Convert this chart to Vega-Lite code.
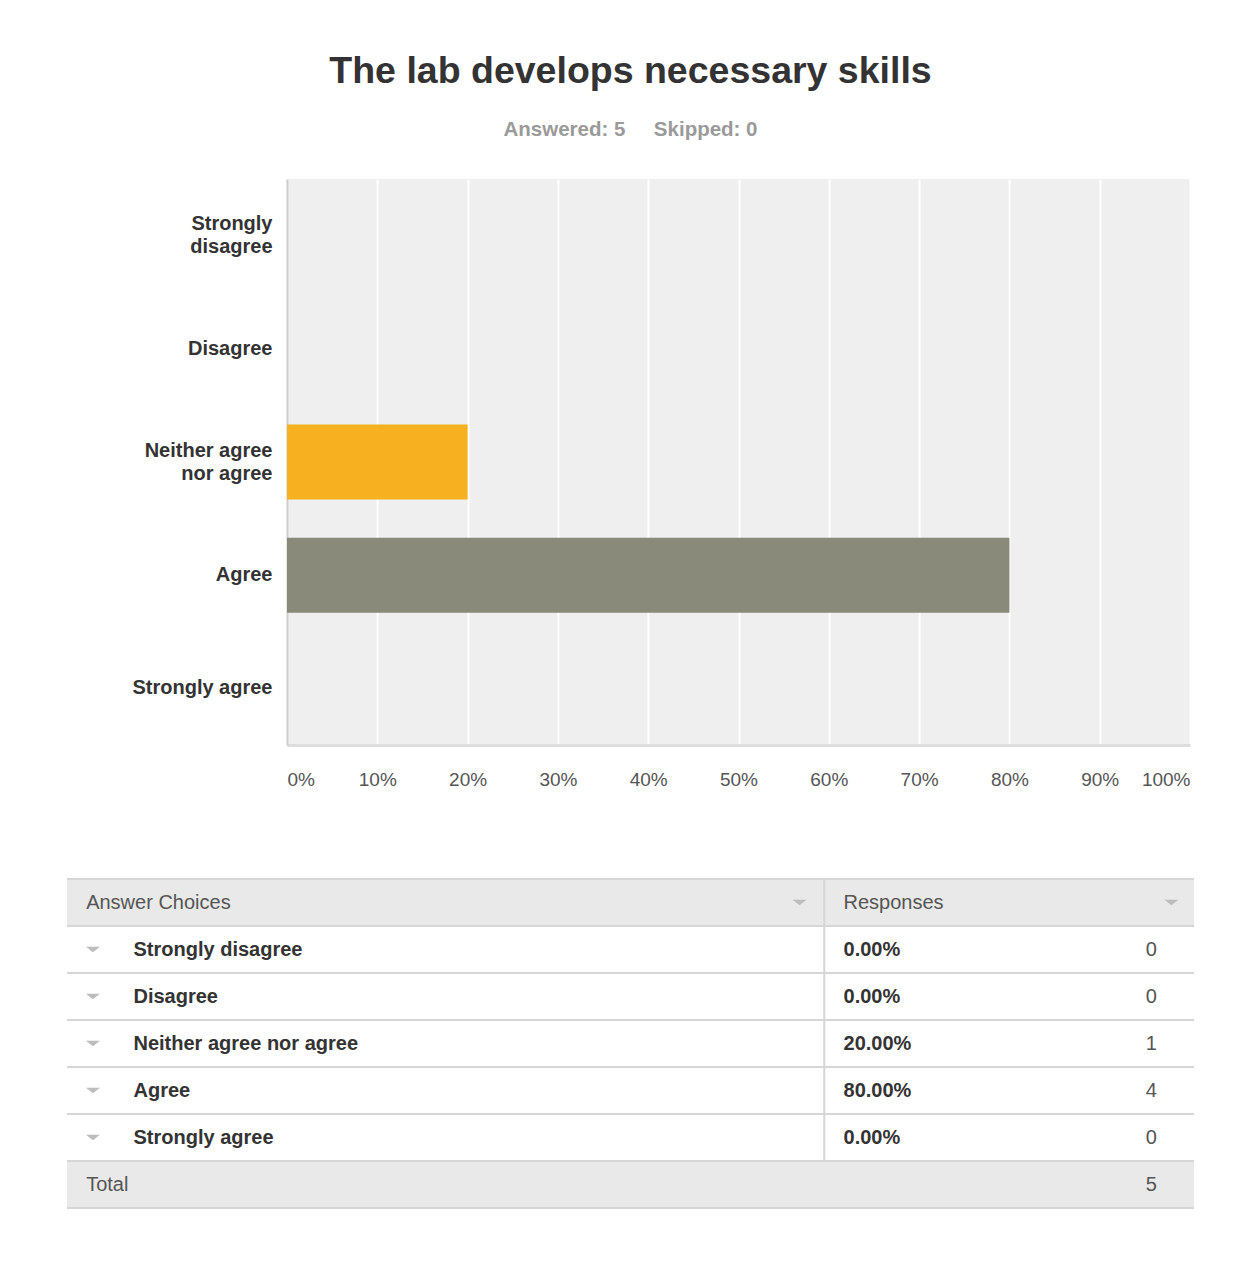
{
  "$schema": "https://vega.github.io/schema/vega-lite/v6.json",
  "padding": {"left": 66, "top": 53, "right": 0, "bottom": 0},
  "background": "white",
  "title": {
    "text": "The lab develops necessary skills",
    "subtitle": "Answered: 5\u00a0\u00a0\u00a0\u00a0 Skipped: 0",
    "anchor": "middle",
    "font": "Liberation Sans",
    "fontSize": 37.5,
    "fontWeight": "bold",
    "color": "#333333",
    "subtitleFont": "Liberation Sans",
    "subtitleFontSize": 20.5,
    "subtitleFontWeight": "bold",
    "subtitleColor": "#9a9a9a",
    "subtitlePadding": 29,
    "offset": 39
  },
  "datasets": {
    "table": [
      {"row": "Answer Choices", "kind": "header", "resp": "Responses"},
      {"row": "Strongly disagree", "kind": "body", "share": 0, "count": 0},
      {"row": "Disagree", "kind": "body", "share": 0, "count": 0},
      {"row": "Neither agree nor agree", "kind": "body", "share": 0.2, "count": 1},
      {"row": "Agree", "kind": "body", "share": 0.8, "count": 4},
      {"row": "Strongly agree", "kind": "body", "share": 0, "count": 0},
      {"row": "Total", "kind": "total", "count": 5}
    ]
  },
  "spacing": 89,
  "vconcat": [
    {
      "width": 903,
      "height": 566,
      "view": {"fill": "#efefef", "stroke": null},
      "data": {"name": "table"},
      "transform": [{"filter": "datum.kind == 'body'"}],
      "mark": {"type": "bar"},
      "encoding": {
        "y": {
          "field": "row",
          "type": "nominal",
          "sort": null,
          "scale": {"paddingInner": 0.337, "paddingOuter": 0.1685},
          "axis": {
            "title": null,
            "ticks": false,
            "grid": false,
            "domain": true,
            "domainColor": "#cccccc",
            "domainWidth": 2,
            "labelFont": "Liberation Sans",
            "labelFontSize": 20,
            "labelFontWeight": "bold",
            "labelColor": "#333333",
            "labelPadding": 15,
            "labelLineHeight": 23,
            "labelOffset": {"condition": {"test": "datum.value == 'Strongly disagree' || datum.value == 'Neither agree nor agree'", "value": -11.5}, "value": 0},
            "labelExpr": "datum.value == 'Strongly disagree' ? ['Strongly', 'disagree'] : datum.value == 'Neither agree nor agree' ? ['Neither agree', 'nor agree'] : datum.label"
          }
        },
        "x": {
          "field": "share",
          "type": "quantitative",
          "scale": {"domain": [0, 1], "nice": false},
          "axis": {
            "title": null,
            "format": ".0%",
            "values": [0, 0.1, 0.2, 0.3, 0.4, 0.5, 0.6, 0.7, 0.8, 0.9, 1],
            "ticks": false,
            "grid": true,
            "gridColor": "#ffffff",
            "gridWidth": 2,
            "domain": true,
            "domainColor": "#dddddd",
            "domainWidth": 3,
            "labelFont": "Liberation Sans",
            "labelFontSize": 19,
            "labelColor": "#555555",
            "labelPadding": 25,
            "labelFlush": true
          }
        },
        "color": {
          "field": "row",
          "type": "nominal",
          "legend": null,
          "scale": {
            "domain": ["Strongly disagree", "Disagree", "Neither agree nor agree", "Agree", "Strongly agree"],
            "range": ["#00bf6f", "#507cb6", "#f7b01f", "#898a79", "#6bc8cd"]
          }
        }
      }
    },
    {
      "width": 907,
      "height": 329,
      "view": {"stroke": null},
      "data": {"name": "table"},
      "encoding": {
        "y": {
          "field": "row",
          "type": "nominal",
          "axis": null,
          "scale": {
            "domain": ["Answer Choices", "Strongly disagree", "Disagree", "Neither agree nor agree", "Agree", "Strongly agree", "Total"],
            "paddingInner": 0,
            "paddingOuter": 0
          }
        }
      },
      "layer": [
        {
          "transform": [{"filter": "datum.kind != 'body'"}],
          "mark": {"type": "rect", "fill": "#e9e9e9"},
          "encoding": {
            "x": {"datum": 0, "type": "quantitative", "scale": {"domain": [0, 100], "range": [-220, 907], "nice": false, "zero": false}, "axis": null},
            "x2": {"datum": 100}
          }
        },
        {
          "mark": {"type": "rule", "stroke": "#d6d6d6", "strokeWidth": 2},
          "encoding": {
            "y": {"field": "row", "type": "nominal", "bandPosition": 0},
            "x": {"datum": 0, "type": "quantitative"},
            "x2": {"datum": 100}
          }
        },
        {
          "transform": [{"filter": "datum.kind == 'total'"}],
          "mark": {"type": "rule", "stroke": "#d6d6d6", "strokeWidth": 2},
          "encoding": {
            "y": {"field": "row", "type": "nominal", "bandPosition": 1},
            "x": {"datum": 0, "type": "quantitative"},
            "x2": {"datum": 100}
          }
        },
        {
          "transform": [{"filter": "datum.kind != 'total'"}],
          "mark": {"type": "rect", "fill": "#d6d6d6"},
          "encoding": {
            "x": {"datum": 67.1, "type": "quantitative"},
            "x2": {"datum": 67.28}
          }
        },
        {
          "transform": [{"filter": "datum.kind == 'body'"}],
          "mark": {"type": "point", "shape": "M-1,-0.4L1,-0.4L0,0.4Z", "filled": true, "fill": "#bdbdbd", "size": 196, "opacity": 1},
          "encoding": {
            "x": {"datum": 2.3, "type": "quantitative"}
          }
        },
        {
          "transform": [{"filter": "datum.kind == 'header'"}],
          "mark": {"type": "point", "shape": "M-1,-0.4L1,-0.4L0,0.4Z", "filled": true, "fill": "#bdbdbd", "size": 196, "opacity": 1},
          "encoding": {
            "x": {"datum": 65.0, "type": "quantitative"}
          }
        },
        {
          "transform": [{"filter": "datum.kind == 'header'"}],
          "mark": {"type": "point", "shape": "M-1,-0.4L1,-0.4L0,0.4Z", "filled": true, "fill": "#bdbdbd", "size": 196, "opacity": 1},
          "encoding": {
            "x": {"datum": 98.0, "type": "quantitative"}
          }
        },
        {
          "transform": [{"filter": "datum.kind != 'body'"}],
          "mark": {"type": "text", "align": "left", "baseline": "middle", "font": "Liberation Sans", "fontSize": 20, "color": "#555555"},
          "encoding": {
            "x": {"datum": 1.7, "type": "quantitative"},
            "text": {"field": "row", "type": "nominal"}
          }
        },
        {
          "transform": [{"filter": "datum.kind == 'header'"}],
          "mark": {"type": "text", "align": "left", "baseline": "middle", "font": "Liberation Sans", "fontSize": 20, "color": "#555555"},
          "encoding": {
            "x": {"datum": 68.9, "type": "quantitative"},
            "text": {"field": "resp", "type": "nominal"}
          }
        },
        {
          "transform": [{"filter": "datum.kind == 'body'"}],
          "mark": {"type": "text", "align": "left", "baseline": "middle", "font": "Liberation Sans", "fontSize": 20, "fontWeight": "bold", "color": "#333333"},
          "encoding": {
            "x": {"datum": 5.9, "type": "quantitative"},
            "text": {"field": "row", "type": "nominal"}
          }
        },
        {
          "transform": [{"filter": "datum.kind == 'body'"}],
          "mark": {"type": "text", "align": "left", "baseline": "middle", "font": "Liberation Sans", "fontSize": 20, "fontWeight": "bold", "color": "#333333"},
          "encoding": {
            "x": {"datum": 68.9, "type": "quantitative"},
            "text": {"field": "share", "type": "quantitative", "format": ".2%"}
          }
        },
        {
          "transform": [{"filter": "datum.kind != 'header'"}],
          "mark": {"type": "text", "align": "right", "baseline": "middle", "font": "Liberation Sans", "fontSize": 20, "color": "#555555"},
          "encoding": {
            "x": {"datum": 96.7, "type": "quantitative"},
            "text": {"field": "count", "type": "quantitative"}
          }
        }
      ]
    }
  ],
  "config": {
    "font": "Liberation Sans"
  }
}
